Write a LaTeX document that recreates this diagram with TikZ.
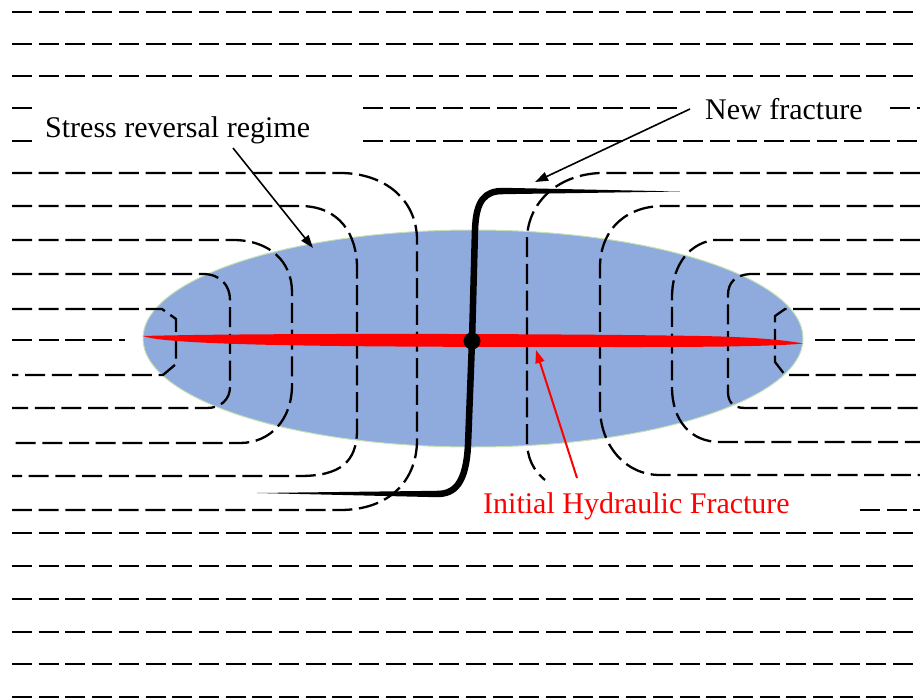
\documentclass[tikz,border=0pt]{standalone}
\usepackage{fontspec}
\setmainfont{Liberation Serif}
\usetikzlibrary{arrows.meta,shapes.geometric}
\definecolor{zonefill}{HTML}{8FAADC}
\definecolor{zoneedge}{HTML}{C5E0B4}
\tikzset{
  isoline/.style={line width=2.6pt, dash pattern=on 20pt off 6.7pt},
  bentline/.style={line width=2.3pt, dash pattern=on 20pt off 6.7pt},
  caption/.style={anchor=base west, inner sep=0pt, font=\fontsize{30}{36}\selectfont},
  pointer/.style={line width=1.6pt, -{Triangle[length=13pt,width=9pt]}},
  newfrac/.style={line width=6.5pt, line cap=butt, line join=round},
}
\begin{document}
\begin{tikzpicture}[x=1pt,y=-1pt]
\useasboundingbox (0,0) rectangle (920,700);

% stress reversal zone
\node[ellipse, draw=zoneedge, line width=1pt, fill=zonefill, inner sep=0pt,
      minimum width=660pt, minimum height=217pt] (zone) at (473,338.5) {};

% undisturbed stress contours
\foreach \yy in {12,44,76,533,566,599,632,664,697}
  \draw[isoline] (12,\yy) -- (920,\yy);
\draw[isoline] (12,108) -- (32,108);
\draw[isoline] (363,108) -- (680,108);
\draw[isoline] (890,108) -- (920,108);
\draw[isoline] (12,141) -- (32,141);
\draw[isoline] (363,141) -- (920,141);
\draw[isoline] (12,340) -- (125,340);
\draw[isoline] (815,340) -- (920,340);
\draw[isoline] (860,510) -- (920,510);

% contours bent around the zone, left side
\draw[bentline] (12,173) -- (340,173) .. controls (385,173) and (417,200) .. (417,240)
  -- (417,440) .. controls (417,480) and (390,510) .. (340,510) -- (12,510);
\draw[bentline] (12,206) -- (300,206) .. controls (340,206) and (357,235) .. (357,268)
  -- (357,430) .. controls (357,462) and (340,476) .. (300,476) -- (12,476);
\draw[bentline] (12,240) -- (233,240) .. controls (270,240) and (292,262) .. (292,292)
  -- (292,385) .. controls (292,420) and (270,443) .. (240,443) -- (12,443);
\draw[bentline] (12,274) -- (203,274) .. controls (220,274) and (230,285) .. (230,300)
  -- (230,387) .. controls (230,400) and (220,408) .. (207,408) -- (12,408);
\draw[bentline] (12,309) -- (162,309) -- (176,319) -- (176,364) -- (163,375) -- (12,375);

% contours bent around the zone, right side
\draw[bentline] (920,173) -- (600,173) .. controls (555,175) and (527,205) .. (527,240)
  -- (527,440) .. controls (527,458) and (533,470) .. (545,480);
\draw[bentline] (920,206) -- (660,206) .. controls (620,208) and (600,235) .. (600,267)
  -- (600,407) .. controls (600,445) and (625,475) .. (660,475) -- (920,475);
\draw[bentline] (920,240) -- (713,240) .. controls (685,245) and (672,270) .. (672,297)
  -- (672,387) .. controls (672,420) and (690,442) .. (720,442) -- (920,442);
\draw[bentline] (920,274) -- (750,274) .. controls (735,275) and (728,283) .. (728,295)
  -- (728,392) .. controls (728,402) and (733,408) .. (745,408) -- (920,408);
\draw[bentline] (920,309) -- (785,309) -- (775,316) -- (775,362) -- (785,375) -- (920,375);

% initial hydraulic fracture
\fill[red] (143,336) .. controls (250,333) and (550,333.5) .. (700,336)
  .. controls (760,337) and (790,341) .. (803,343.5)
  .. controls (780,346) and (720,347) .. (640,347)
  .. controls (400,347) and (170,347) .. (143,336) -- cycle;

% new fracture
\coordinate (wb) at (472,341);
\draw[newfrac] (wb) -- (475,230) .. controls (476,200) and (485,191) .. (503,191);
\draw[newfrac] (wb) -- (468,445) .. controls (466,483) and (455,494) .. (437,494);
\fill (503,187.8) -- (680,191.5) -- (503,194.2) -- cycle;
\fill (437,490.8) -- (257,493) -- (437,497.2) -- cycle;
\fill (wb) circle (8.5pt);

% labels
\node[caption] (srr) at (45,138) {Stress reversal regime};
\node[caption] (nf) at (705,120) {New fracture};
\node[caption, text=red] (ihf) at (483,513) {Initial Hydraulic Fracture};

\coordinate (srrfrom) at (233,148);
\coordinate (srrto) at (313,248);
\coordinate (nffrom) at (690,109);
\coordinate (nfto) at (535,182);
\coordinate (ihffrom) at (577,478);
\coordinate (ihfto) at (536,350);
\draw[pointer] (srrfrom) -- (srrto);
\draw[pointer] (nffrom) -- (nfto);
\draw[pointer, red, line width=2pt] (ihffrom) -- (ihfto);
\end{tikzpicture}
\end{document}
